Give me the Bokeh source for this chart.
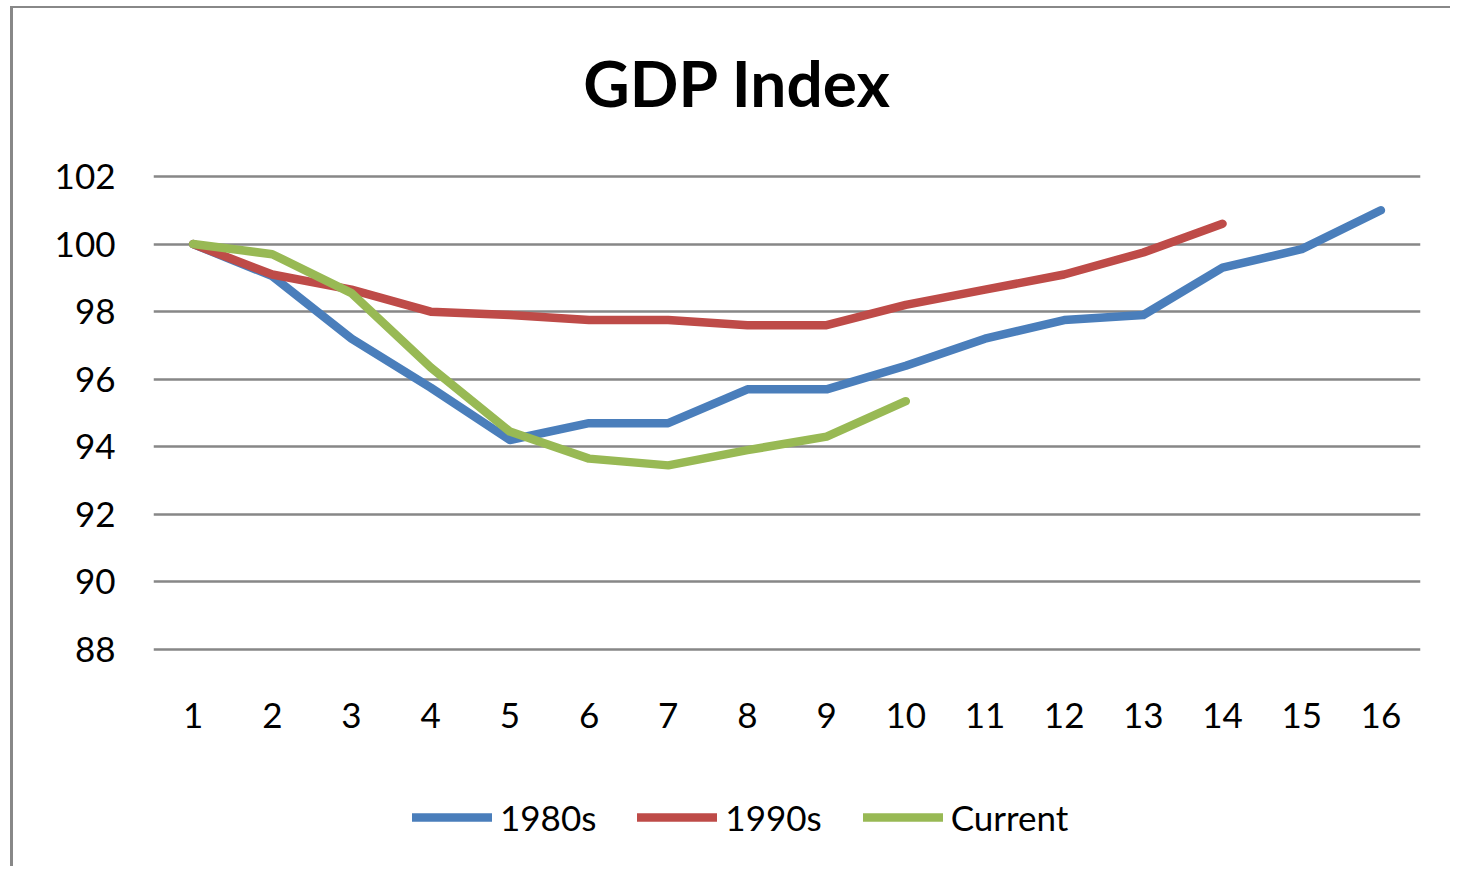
from bokeh.plotting import figure
from bokeh.models import Range1d, FixedTicker, Legend, LegendItem, Label
from bokeh.embed import file_html
from bokeh.resources import INLINE

periods = list(range(1, 17))
s1980 = [100, 99.05, 97.2, 95.75, 94.2, 94.7, 94.7, 95.7, 95.7, 96.4, 97.2, 97.75, 97.9, 99.3, 99.85, 101.0]
s1990 = [100, 99.1, 98.65, 98.0, 97.9, 97.75, 97.75, 97.6, 97.6, 98.2, 98.65, 99.1, 99.75, 100.6]
current = [100, 99.7, 98.55, 96.35, 94.45, 93.65, 93.45, 93.9, 94.3, 95.35]
y_ticks = [88, 90, 92, 94, 96, 98, 100, 102]
series_names = ["1980s", "1990s", "Current"]
colors = ["#4A7EBB", "#BE4B48", "#98B954"]
title_text = "GDP Index"

FONT = "Lato"

# layout (pixels): canvas 860 tall; gridline 102 at 168 px from top, 88 at 641 px
H = 860
top_px, bot_px = 168, 641
ppu = (bot_px - top_px) / (y_ticks[-1] - y_ticks[0])
y_hi = y_ticks[-1] + top_px / ppu
y_lo = y_ticks[0] - (H - bot_px) / ppu

p = figure(width=1440, height=H, output_backend="svg", toolbar_location=None, title=None,
           x_range=Range1d(0.5, 16.5), y_range=Range1d(y_lo, y_hi),
           min_border_left=140, min_border_right=33, min_border_top=0, min_border_bottom=0)
p.outline_line_color = None
p.background_fill_color = "white"
p.border_fill_color = "white"
p.styles = {"margin-left": "10px", "margin-top": "6px",
            "border-left": "3px solid #888888", "border-top": "2px solid #888888"}

p.xgrid.grid_line_color = None
p.ygrid.grid_line_color = "#878787"
p.ygrid.grid_line_width = 2.5
p.ygrid.ticker = FixedTicker(ticks=y_ticks)

p.yaxis.ticker = FixedTicker(ticks=y_ticks)
p.xaxis.ticker = FixedTicker(ticks=periods)
p.xaxis.fixed_location = y_ticks[0]
for ax in (p.xaxis, p.yaxis):
    ax.axis_line_color = None
    ax.major_tick_line_color = None
    ax.minor_tick_line_color = None
    ax.major_tick_in = 0
    ax.major_tick_out = 0
    ax.major_label_text_font = FONT
    ax.major_label_text_font_size = "35px"
    ax.major_label_text_color = "black"
p.yaxis.major_label_standoff = 38
p.xaxis.major_label_standoff = 53

renderers = []
for vals, c in zip([s1980, s1990, current], colors):
    r = p.line(periods[:len(vals)], vals, line_color=c, line_width=8.5,
               line_cap="round", line_join="round")
    renderers.append(r)

legend = Legend(items=[LegendItem(label=n, renderers=[r]) for n, r in zip(series_names, renderers)],
                orientation="horizontal", location=(259, 30),
                glyph_width=80, glyph_height=40, label_height=40,
                label_standoff=8, spacing=41, padding=0, margin=0,
                border_line_color=None, background_fill_alpha=0,
                label_text_font=FONT, label_text_font_size="35px", label_text_color="black")
p.add_layout(legend, "center")

title = Label(x=7.875, y=y_ticks[-1] + (176 - 82) / ppu, text=title_text,
              text_align="center", text_baseline="alphabetic",
              text_font=FONT, text_font_size="64px", text_font_style="bold", text_color="black")
p.add_layout(title)

open("out.html", "w").write(file_html(p, INLINE))
